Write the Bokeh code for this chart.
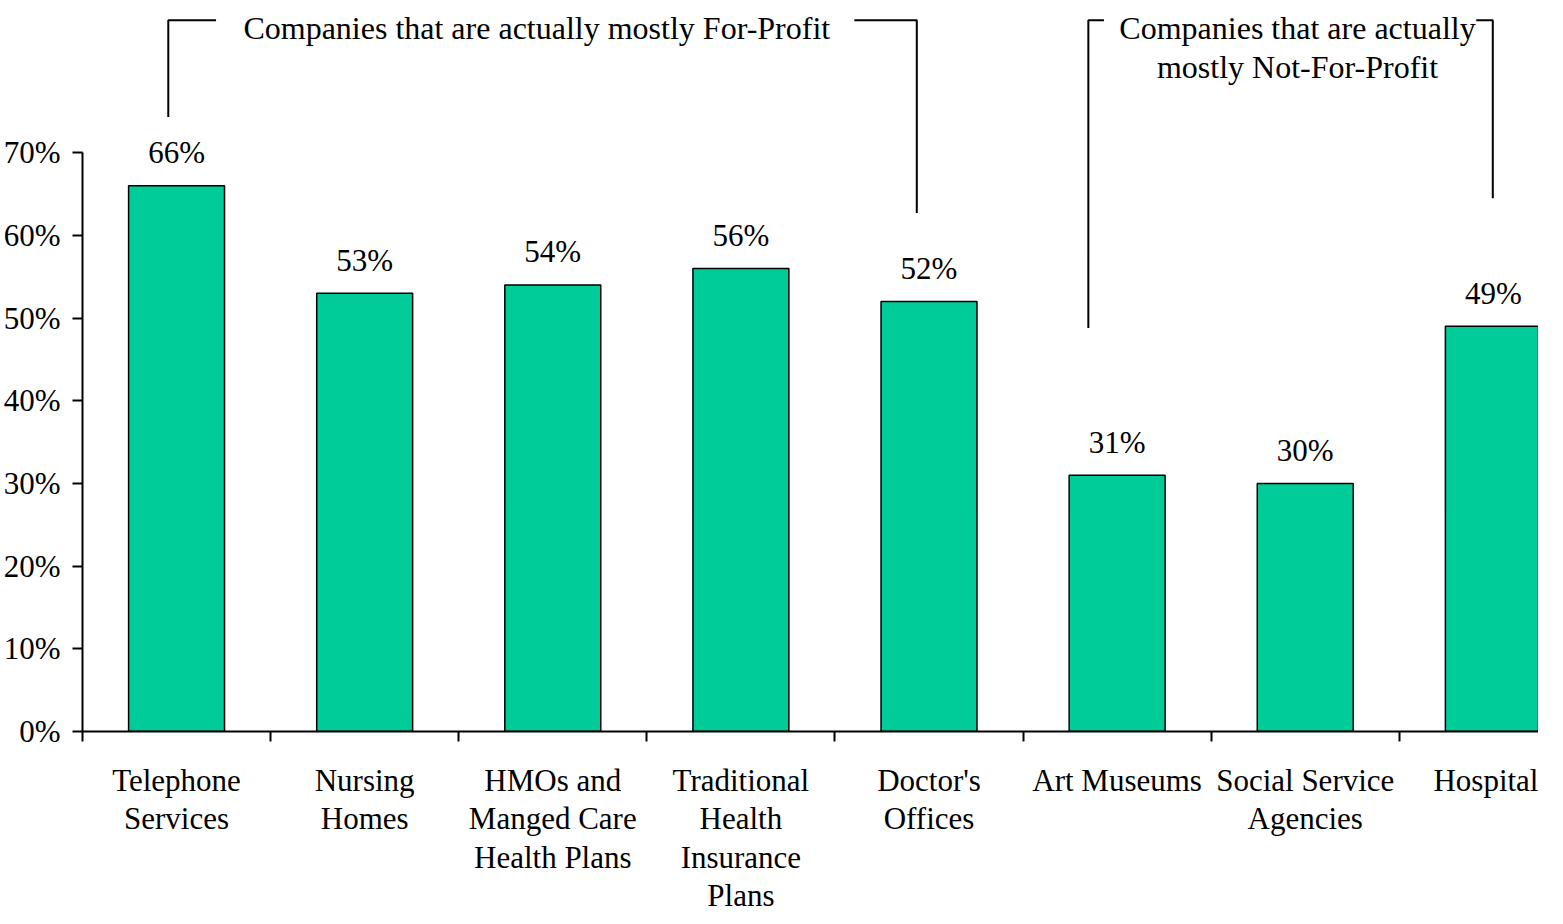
from bokeh.plotting import figure
from bokeh.models import ColumnDataSource, Range1d, FixedTicker
from bokeh.core.properties import value
from bokeh.embed import file_html
from bokeh.resources import INLINE

# ---- data ----
categories = ["Telephone\nServices", "Nursing\nHomes", "HMOs and\nManged Care\nHealth Plans",
              "Traditional\nHealth\nInsurance\nPlans", "Doctor's\nOffices", "Art Museums",
              "Social Service\nAgencies", "Hospital"]
percent_values = [66, 53, 54, 56, 52, 31, 30, 49]
value_labels = ["66%", "53%", "54%", "56%", "52%", "31%", "30%", "49%"]
ytick_values = [0, 10, 20, 30, 40, 50, 60, 70]
ytick_labels = ["0%", "10%", "20%", "30%", "40%", "50%", "60%", "70%"]
annotation_texts = ["Companies that are actually mostly For-Profit",
                    "Companies that are actually", "mostly Not-For-Profit"]

FONT = "Liberation Serif"
BAR = "#00CC99"

centers = [i + 0.5 for i in range(len(categories))]
bounds = list(range(len(categories)))

p = figure(width=1538, height=916, output_backend="svg", toolbar_location=None,
           x_range=Range1d(0, 7.74), y_range=Range1d(0, 88.4))
p.min_border_top = 0
p.min_border_right = 0
p.min_border_bottom = 0
p.min_border_left = 0
p.outline_line_color = None
p.xgrid.visible = False
p.ygrid.visible = False
p.background_fill_color = "white"
p.border_fill_color = "white"

src = ColumnDataSource(dict(x=centers, top=percent_values, lab=value_labels))
p.vbar(x="x", top="top", width=0.51, source=src, fill_color=BAR,
       line_color="black", line_width=1.5)
p.text(x="x", y="top", text="lab", source=src, y_offset=-33, text_align="center",
       text_baseline="alphabetic", text_font=value(FONT), text_font_size="31px",
       text_color="black")

# annotation texts
ann = ColumnDataSource(dict(x=[2.415, 6.459, 6.459], y=[85.1, 85.1, 80.4], t=annotation_texts))
p.text(x="x", y="y", text="t", source=ann, text_align="center", text_baseline="alphabetic",
       text_font=value(FONT), text_font_size="32px", text_color="black")

# brackets
br_x = [[0.456, 0.456, 0.710], [4.103, 4.435, 4.435],
        [5.347, 5.347, 5.430], [7.409, 7.497, 7.497]]
br_y = [[74.3, 86.0, 86.0], [86.0, 86.0, 62.7],
        [48.8, 86.0, 86.0], [86.0, 86.0, 64.5]]
p.multi_line(xs=br_x, ys=br_y, line_color="black", line_width=2)

# y axis
ya = p.yaxis[0]
ya.ticker = FixedTicker(ticks=ytick_values)
ya.major_label_overrides = {v: l for v, l in zip(ytick_values, ytick_labels)}
ya.bounds = (0, 70)
ya.minor_tick_line_color = None
ya.major_tick_in = 0
ya.major_tick_out = 10
ya.major_tick_line_width = 2
ya.axis_line_width = 2
ya.major_label_standoff = 12
ya.major_label_text_font = FONT
ya.major_label_text_font_size = "31px"
ya.major_label_text_color = "black"

# x axis
xa = p.xaxis[0]
xa.ticker = FixedTicker(ticks=centers, minor_ticks=bounds)
xa.major_label_overrides = {c: n for c, n in zip(centers, categories)}
xa.major_tick_in = 0
xa.major_tick_out = 0
xa.minor_tick_in = 0
xa.minor_tick_out = 10
xa.minor_tick_line_color = "black"
xa.minor_tick_line_width = 2
xa.axis_line_width = 2
xa.major_label_standoff = 21
xa.major_label_text_font = FONT
xa.major_label_text_font_size = "31px"
xa.major_label_text_line_height = 1.1
xa.major_label_text_color = "black"
xa.major_label_orientation = "horizontal"

open("out.html", "w").write(file_html(p, INLINE))
